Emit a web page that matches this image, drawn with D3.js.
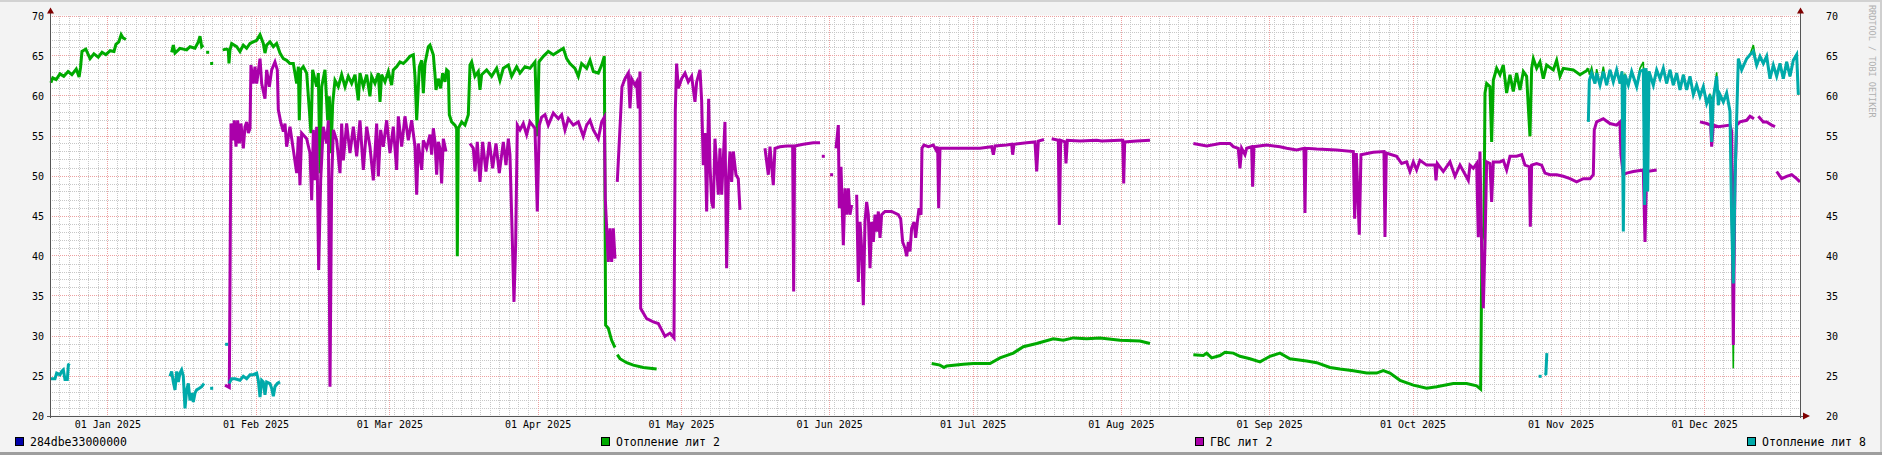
<!DOCTYPE html>
<html><head><meta charset="utf-8">
<script src="https://cdn.jsdelivr.net/npm/d3@7"></script>
<style>
html,body{margin:0;padding:0;background:#F3F3F3;}
svg{display:block;}
text{font-family:"DejaVu Sans Mono",monospace;}
</style>
</head><body>
<svg id="chart" width="1882" height="455"></svg>
<script>
// ---------- DATA (time = days since 01 Jan 2025 00:00, value = °C) ----------
const rangeStartDay = -11.985;
const rangeEndDay = 354.05;
const yTicks = [20, 25, 30, 35, 40, 45, 50, 55, 60, 65, 70];
const legendLabels = ["284dbe33000000", "Отопление лит 2", "ГВС лит 2", "Отопление лит 8"];
const seriesColors = ["#0000AA", "#00AA00", "#AA00AA", "#00AAAA"];
const watermark = "RRDTOOL / TOBI OETIKER";

// 284dbe33000000 : no data in the period
const sensorBlue = [];

// Отопление лит 2 (up to the start of "лит 8")
const heating2 = [
[-11.8,61.6],[-11.4,62.2],[-10.7,62.0],[-9.9,62.7],[-9.1,62.4],[-8.2,63.0],[-7.4,62.6],[-6.5,63.3],[-5.9,62.3],[-5.6,63.5],[-5.3,65.5],[-4.5,65.8],[-3.6,64.6],[-2.8,65.2],[-1.9,64.8],[-1.1,65.4],[-0.3,65.1],[0.6,65.6],[1.4,65.5],[1.8,66.4],[2.4,66.7],[2.9,67.6],[3.3,67.2],[3.9,67.0],
null,
[13.46,65.4],[13.81,66.3],[14.16,65.3],[15.2,65.9],[16.6,65.7],[17.3,66.1],[18.34,65.9],[19.04,66.7],[19.39,67.4],[19.74,66.1],[20.08,66.3],
null,[20.99,65.4],null,[21.83,64.0],null,
[24.13,65.7],[24.96,65.8],[25.31,65.7],[25.45,64.0],[25.66,65.7],[26.01,66.5],[27.06,66.1],[27.75,65.5],[28.45,66.3],[29.15,65.9],[29.85,66.5],[30.54,66.7],[31.24,66.9],[31.94,67.6],[32.63,66.5],[32.98,65.3],[33.33,66.3],[34.03,66.7],[34.73,66.1],[35.42,66.5],[36.12,65.3],[36.82,64.6],[37.51,64.4],[38.21,64.0],[38.91,64.0],[39.61,61.5],[39.96,63.6],[40.16,56.9],[40.44,63.2],[41.0,63.6],[41.7,62.8],[42.61,55.3],[42.95,63.2],[43.79,61.1],[44.14,62.8],[44.49,50.3],[44.84,61.1],[45.53,63.2],[46.09,56.9],[46.44,59.9],[46.79,52.8],[47.14,59.0],[47.62,61.9],[48.32,61.1],[49.02,62.6],[49.72,61.1],[50.41,62.4],[51.11,61.5],[51.81,62.6],[52.5,59.4],[52.85,62.8],[53.55,61.1],[54.25,62.6],[54.94,59.9],[55.29,62.4],[55.99,61.5],[56.69,62.8],[57.04,59.2],[57.38,62.6],[58.08,61.7],[58.78,63.0],[59.47,61.3],[59.82,63.2],[60.52,63.6],[61.22,64.2],[61.92,64.0],[62.61,64.4],[63.31,64.9],[64.01,65.1],[64.36,62.4],[64.71,56.9],[65.27,63.6],[65.76,64.4],[66.1,60.3],[66.45,64.0],[67.15,66.1],[67.49,66.3],[68.19,65.1],[68.54,62.6],[68.75,60.7],[69.23,62.1],[69.72,60.9],[70.14,62.8],[70.63,61.7],[70.98,63.2],[71.33,63.0],[71.54,57.6],[72.02,56.7],[72.72,56.3],[73.07,55.9],[73.21,39.9],[73.42,55.9],[74.12,56.7],[74.81,56.3],[75.51,57.6],[75.86,63.8],[76.21,64.2],[76.9,62.4],[77.6,63.0],[77.95,60.7],[78.3,62.6],[79.34,63.2],[80.39,62.4],[81.44,63.4],[82.13,61.9],[82.83,63.4],[83.88,63.8],[84.57,62.4],[85.62,63.6],[86.32,62.8],[87.36,63.6],[88.41,63.4],[89.45,64.2],[89.94,54.9],[90.29,64.2],[91.2,64.9],[92.24,65.5],[93.29,65.1],[94.33,65.5],[95.38,65.9],[96.08,64.6],[96.77,64.0],[97.82,63.4],[98.52,62.4],[99.21,64.0],[100.26,63.4],[100.96,64.4],[101.66,63.0],[102.7,62.8],[103.4,63.8],[103.96,64.9],[104.23,31.3],[104.79,30.9],[105.49,29.4],[106.19,28.5],
null,
[106.67,27.6],[107.23,27.1],[108.63,26.6],[110.02,26.3],[112.11,26.0],[114.9,25.8],
null,
[172.43,26.5],[174.17,26.3],[175.01,26.0],[175.56,26.2],[179.05,26.4],[181.14,26.5],[184.63,26.5],[186.72,27.2],[189.51,27.8],[191.6,28.6],[194.39,29.0],[197.87,29.6],[199.97,29.4],[202.06,29.7],[204.85,29.6],[207.64,29.7],[211.82,29.4],[215.98,29.3],[218.09,29.0],
null,
[227.16,27.6],[229.25,27.5],[229.95,27.8],[230.99,27.2],[232.74,27.5],[233.78,27.9],[235.52,27.8],[236.91,27.4],[239.0,27.1],[241.1,26.7],[243.19,27.4],[245.28,27.8],[247.37,27.1],[250.86,26.8],[252.95,26.6],[255.74,26.0],[257.83,25.8],[260.62,25.6],[263.41,25.3],[265.5,25.3],[266.89,25.6],[268.29,25.3],[270.38,24.4],[273.17,23.8],[275.96,23.4],[278.05,23.6],[281.53,24.0],[284.32,24.0],[286.42,23.7],[287.25,23.3],[287.53,41.7],[287.95,43.8],[288.16,60.3],[288.51,61.5],[289.2,61.1],[289.55,54.2],[289.9,61.9],[290.6,63.4],[291.3,62.6],[291.99,63.8],[292.69,60.3],[293.39,62.6],[294.08,60.5],[294.78,62.8],[295.48,60.7],[296.18,63.0],[296.87,62.4],[297.57,54.9],[297.92,63.4],[298.27,64.6],[298.97,63.4],[299.66,64.2],[300.36,62.1],[301.06,63.8],[302.45,63.2],[303.15,64.4],[303.84,62.4],[304.54,63.4],[306.63,63.2],[308.03,62.6],[309.42,63.1],[309.78,63.4]
];
// Отопление лит 2 (period where it lies mostly under "лит 8")
const heating2Late = [
[309.78,63.4],[309.99,62.6],[310.47,63.5],[311.17,61.5],[311.52,63.3],[312.22,61.3],[312.91,63.6],[313.61,61.3],[314.31,63.2],[315.0,61.7],[315.7,63.2],[316.4,61.5],[316.82,63.0],[317.1,62.0],[317.44,62.6],[318.14,61.3],[318.84,63.0],[319.89,61.1],[320.58,63.4],[321.28,64.2],[321.56,53.0],[321.84,63.4],[322.19,62.0],[322.47,63.0],[323.37,61.3],[324.07,63.2],[324.77,62.1],[325.46,63.4],[326.16,61.5],[326.86,63.2],[327.55,61.3],[328.25,62.8],[328.95,60.7],[329.65,62.6],[330.34,60.7],[331.04,62.4],[331.74,60.1],[332.43,61.3],[333.13,59.9],[333.83,61.1],[334.53,59.0],[335.22,60.1],[335.57,59.6],[335.92,59.6],[336.62,62.9],[336.97,58.8],[337.32,60.1],[338.01,59.2],[338.71,60.3],[339.41,58.0],[339.76,44.2],[340.1,25.9],[340.45,49.2],[340.8,57.1],[341.15,64.6],[341.85,63.2],[342.89,64.6],[343.59,65.1],[344.29,66.3],[344.99,63.8],[345.68,64.9],[346.38,64.0],[347.08,64.9],[347.77,62.1],[348.47,63.8],[349.17,62.4],[349.87,64.0],[350.56,62.1],[351.26,64.2],[351.96,62.4],[352.65,64.4],[353.35,65.1],[353.7,60.1]
];

// ГВС лит 2
const hotWater2 = [
[24.62,23.8],[25.52,23.5],[25.87,56.5],[26.22,54.4],[26.57,56.9],[26.92,53.6],[27.27,56.9],[27.62,54.0],[27.96,56.5],[28.45,53.4],[28.8,56.1],[29.15,56.7],[29.5,55.3],[29.85,55.9],[30.05,63.8],[30.54,61.5],[30.89,63.6],[31.24,61.5],[31.94,64.6],[32.29,61.5],[32.98,59.6],[33.33,63.2],[33.89,61.1],[34.38,63.2],[35.07,64.2],[35.56,63.2],[35.77,58.2],[36.26,56.7],[36.82,55.5],[37.17,56.5],[37.51,53.6],[38.21,56.1],[38.91,53.2],[39.61,50.3],[39.96,54.9],[40.3,48.8],[40.65,55.3],[41.7,54.6],[42.4,52.8],[42.75,46.9],[43.1,55.7],[43.44,49.4],[43.79,56.1],[44.21,38.2],[44.63,49.4],[45.18,56.1],[45.88,54.0],[46.23,56.9],[46.58,23.6],[46.93,49.4],[47.28,55.7],[47.97,54.4],[48.67,50.3],[49.02,56.5],[49.37,51.9],[50.06,56.5],[50.76,52.8],[51.46,56.1],[52.16,52.4],[52.85,56.9],[53.55,50.7],[54.25,56.1],[54.94,53.6],[55.64,49.4],[56.34,56.5],[56.69,49.9],[57.18,55.7],[57.73,53.6],[58.43,56.9],[59.13,52.8],[59.82,56.1],[60.52,50.7],[60.87,57.4],[61.57,53.6],[62.26,57.4],[62.96,54.4],[63.66,56.9],[64.36,53.6],[64.71,47.6],[65.06,54.0],[65.76,50.7],[66.1,54.4],[66.79,53.4],[67.49,55.1],[67.84,52.6],[68.19,55.9],[68.54,54.2],[68.89,50.1],[69.23,54.2],[69.58,53.4],[69.93,49.0],[70.28,54.6],[70.84,53.0],
null,
[75.86,54.0],[76.56,53.4],[76.9,50.5],[77.39,54.2],[77.95,49.2],[78.51,54.2],[79.2,50.5],[79.9,54.2],[80.6,50.9],[81.3,54.0],[81.99,50.3],[82.83,54.2],[83.39,51.3],[83.88,54.6],[84.22,52.6],[84.57,45.1],[85.06,34.2],[85.41,41.3],[85.76,56.3],[86.32,55.7],[87.01,56.5],[87.71,55.1],[88.41,56.7],[89.45,55.9],[89.94,45.5],[90.36,56.3],[90.85,57.3],[91.55,57.6],[92.24,56.3],[93.29,57.8],[94.33,57.1],[95.03,57.6],[95.73,55.7],[96.43,57.1],[97.47,56.3],[98.52,56.7],[99.56,54.9],[100.26,56.3],[100.96,56.9],[101.66,55.7],[102.7,54.6],[103.4,56.7],[103.96,57.3],[104.16,47.1],[104.58,41.7],[104.79,39.2],[105.14,43.4],[105.49,39.2],[105.84,43.4],[106.19,39.6],
null,
[106.67,49.2],[107.02,53.4],[107.37,57.6],[107.65,61.1],[108.28,62.1],[108.98,62.8],[109.32,58.4],[109.67,62.1],[110.37,61.3],[110.72,61.7],[111.07,58.4],[111.42,63.0],[111.56,33.4],[112.11,32.8],[112.81,32.1],[114.2,31.7],[115.25,31.5],[115.95,30.7],[116.64,29.9],[117.69,30.3],[118.53,29.7],[118.81,58.2],[119.08,64.0],[119.43,60.9],[120.13,62.1],[120.83,62.8],[121.52,61.7],[122.22,62.4],[122.92,59.2],[123.27,61.7],[123.97,63.2],[124.31,59.4],[124.66,51.3],[125.01,55.3],[125.36,45.5],[125.78,59.6],[126.06,51.3],[126.41,46.7],[126.75,45.9],[127.1,54.6],[127.45,51.3],[127.8,47.6],[128.15,53.4],[128.5,47.6],[128.85,52.1],[129.19,56.7],[129.54,38.4],[129.89,49.2],[130.24,53.0],[130.59,49.2],[130.94,53.0],[131.49,50.1],[131.98,49.6],[132.33,45.7],
null,
[137.56,53.4],[138.26,50.1],[138.61,53.6],[139.3,48.8],[139.65,53.4],[140.7,53.6],[142.09,53.7],[143.35,53.7],[143.56,35.5],[143.77,53.7],[145.58,53.9],[147.67,54.1],[149.07,54.1],
null,[149.76,52.4],null,[151.5,50.1],null,
[152.42,53.4],[152.9,56.3],[153.11,45.9],[153.46,51.1],[153.95,41.3],[154.3,48.4],[154.65,45.1],[155.0,48.4],[155.34,45.1],[155.69,46.3],
null,
[156.74,47.6],[157.09,36.7],[157.44,44.2],[157.78,40.9],[158.13,33.8],[158.48,44.2],[158.83,46.7],[159.18,45.1],[159.53,38.4],[159.88,44.2],[160.23,41.7],[160.57,45.1],[160.92,43.0],[161.27,45.5],[161.62,42.2],[161.97,45.1],[162.67,45.5],[164.06,45.5],[165.45,45.1],[165.94,44.6],[166.36,41.7],[166.85,40.9],[167.2,39.9],[167.55,41.7],[167.89,40.5],[168.24,43.4],[168.73,44.2],[169.08,42.2],[169.43,44.2],[169.78,45.9],[170.2,45.1],[170.4,53.4],[170.82,53.8],[171.73,53.6],[172.78,53.8],[173.33,53.2],[173.68,53.6],[173.89,45.9],[174.17,53.4],[176.96,53.4],[179.75,53.4],[182.54,53.4],[184.98,53.6],[185.33,52.6],[185.67,53.7],[188.11,53.8],[189.16,53.9],[189.37,52.6],[189.65,53.9],[192.3,54.1],[194.04,54.2],[194.39,50.5],[194.74,54.3],[195.92,54.5],
null,
[197.53,54.6],[198.92,54.4],[199.13,43.8],[199.41,54.4],[200.31,54.2],[200.52,51.5],[200.8,54.4],[203.45,54.3],[206.94,54.4],[207.98,54.3],[211.82,54.4],[212.38,54.4],[212.59,49.0],[212.8,54.2],[215.3,54.3],[218.09,54.4],
null,
[227.16,54.0],[229.95,53.7],[232.74,54.0],[234.83,54.0],[235.52,53.6],[236.56,53.4],[236.91,50.9],[237.26,53.4],[237.96,52.6],[238.31,53.4],[239.35,53.6],[239.56,48.6],[239.84,53.6],[242.49,53.8],[245.28,53.6],[246.67,53.4],[248.77,53.2],[250.3,53.4],[250.51,45.3],[250.72,53.4],[252.95,53.3],[257.13,53.2],[260.62,53.0],[260.9,44.6],[261.25,52.8],[261.87,42.6],[262.22,52.6],[264.8,52.9],[267.03,53.0],[267.24,42.3],[267.52,52.8],[269.68,52.4],[270.73,51.5],[271.77,51.7],[272.47,50.5],[273.17,51.7],[273.86,50.7],[274.56,51.9],[275.96,51.3],[277.7,51.3],[277.91,49.4],[278.19,51.5],[279.44,50.5],[280.84,51.7],[281.88,49.9],[282.93,51.3],[284.67,49.4],[285.02,51.3],[285.72,50.9],[286.42,51.5],[286.76,42.3],[287.11,53.0],[287.46,40.9],[287.81,33.4],[288.16,41.3],[288.51,51.7],[289.2,51.5],[289.55,46.7],[289.9,51.7],[291.3,51.7],[291.99,51.9],[292.69,50.7],[293.39,52.4],[294.78,52.4],[295.83,52.6],[296.53,51.3],[297.43,51.1],[297.64,43.6],[297.92,51.3],[298.97,51.5],[300.01,51.3],[300.71,50.3],[301.75,50.1],[303.15,50.1],[304.54,49.9],[305.94,49.6],[307.33,49.2],[308.73,49.6],[310.12,49.6],[310.82,50.1],[311.02,55.7],[311.51,56.7],[312.91,57.1],[314.3,56.5],[315.7,56.3],[316.4,56.7],[316.6,52.6],[317.09,50.1],[317.79,50.3],[319.19,50.5],[321.28,50.7],[321.63,41.7],[321.98,50.5],[324.07,50.7],
null,
[333.13,56.7],[334.53,56.5],[335.36,56.3],[335.57,53.6],[335.92,56.3],[336.97,56.1],[339.41,56.3],[339.76,55.5],[340.1,28.8],[340.45,49.6],[340.8,56.3],[341.5,56.7],[342.89,56.9],[343.59,57.4],[344.43,57.1],
null,
[345.33,57.4],[346.38,56.7],[347.08,56.7],[348.12,56.3],[348.82,56.1],
null,
[349.17,50.5],[350.21,49.6],[351.26,49.9],[352.31,50.1],[353.35,49.6],[354.05,49.2]
];

// Отопление лит 8
const heating8 = [
[-11.99,24.6],[-10.94,24.6],[-10.59,25.3],[-9.89,25.1],[-9.55,25.5],[-9.2,25.7],[-8.85,24.5],[-8.36,24.5],[-8.15,26.3],[-7.94,26.5],
null,
[13.11,24.9],[13.46,25.5],[13.81,24.2],[14.16,23.2],[14.51,25.5],[14.86,24.2],[15.2,25.3],[15.55,25.7],[15.9,24.9],[16.25,20.9],[16.6,23.2],[16.95,24.0],[17.3,21.9],[17.65,22.8],[17.99,21.7],[18.34,22.8],[18.69,23.2],[19.25,23.4],[19.74,23.6],[20.22,24.0],
null,[21.83,23.4],null,[24.96,28.9],null,
[25.45,24.0],[26.01,24.6],[26.71,24.6],[27.75,24.4],[28.45,24.9],[29.15,24.6],[29.85,25.1],[30.54,25.1],[31.24,25.3],[31.59,24.4],[31.94,22.3],[32.29,24.4],[32.63,24.2],[32.98,22.6],[33.33,24.2],[34.03,24.0],[34.38,23.4],[34.73,22.4],[35.07,23.6],[35.56,24.0],[36.12,24.2],
null,[299.7,24.9],null,
[300.6,25.1],[300.9,25.2],[301.1,27.8],
null,
[309.78,56.7],[309.99,61.9],[310.47,62.8],[311.17,61.5],[311.52,62.8],[312.22,61.3],[312.91,63.0],[313.61,61.3],[314.31,63.2],[315.0,61.7],[315.7,63.2],[316.4,61.5],[316.82,63.0],[317.1,43.0],[317.44,62.6],[318.14,61.3],[318.84,63.0],[319.89,61.1],[320.58,63.0],[321.28,63.2],[321.56,46.3],[321.84,63.4],[322.19,48.0],[322.47,63.0],[323.37,61.3],[324.07,63.2],[324.77,62.1],[325.46,63.4],[326.16,61.5],[326.86,63.2],[327.55,61.3],[328.25,62.8],[328.95,60.7],[329.65,62.6],[330.34,60.7],[331.04,62.4],[331.74,60.1],[332.43,61.3],[333.13,59.9],[333.83,61.1],[334.53,59.0],[335.22,60.1],[335.57,54.2],[335.92,59.6],[336.62,62.4],[336.97,58.8],[337.32,60.1],[338.01,59.2],[338.71,60.3],[339.41,58.0],[339.76,44.2],[340.1,36.5],[340.45,49.2],[340.8,57.1],[341.15,64.6],[341.85,63.2],[342.89,64.6],[343.59,65.1],[344.29,65.5],[344.99,63.8],[345.68,64.9],[346.38,64.0],[347.08,64.9],[347.77,62.1],[348.47,63.8],[349.17,62.4],[349.87,64.0],[350.56,62.1],[351.26,64.2],[351.96,62.4],[352.65,64.4],[353.35,65.1],[353.7,60.1]
];

// ---------- LAYOUT ----------
const W = 1882, H = 455;
const L = 50, R = 1800, T = 15.5, B = 415.5;
const DAY = 864e5, BASE = Date.UTC(2025, 0, 1);
const toDate = d => new Date(BASE + d * DAY);

const svg = d3.select("#chart");
const x = d3.scaleUtc().domain([toDate(rangeStartDay), toDate(rangeEndDay)]).range([L, R]);
const y = d3.scaleLinear().domain([d3.min(yTicks), d3.max(yTicks)]).range([B, T]);

// background & frame
svg.append("rect").attr("width", W).attr("height", H).attr("fill", "#F3F3F3");
svg.append("rect").attr("x", 0).attr("y", 0).attr("width", W).attr("height", 2).attr("fill", "#D2D2D2");
svg.append("rect").attr("x", W - 2).attr("y", 0).attr("width", 2).attr("height", H).attr("fill", "#CFCFCF");
svg.append("rect").attr("x", 0).attr("y", H - 3).attr("width", W).attr("height", 3).attr("fill", "#9E9E9E");

// plot canvas
svg.append("rect").attr("x", L).attr("y", T).attr("width", R - L).attr("height", B - T).attr("fill", "#FFFFFF");

const grid = svg.append("g").attr("shape-rendering", "crispEdges");
const minorY = d3.range(d3.min(yTicks), d3.max(yTicks) + 1, 1).filter(v => v % 5 !== 0);
grid.selectAll(".mh").data(minorY).join("line")
  .attr("x1", L).attr("x2", R).attr("y1", d => Math.round(y(d)) + 0.5).attr("y2", d => Math.round(y(d)) + 0.5)
  .attr("stroke", "#C8C8C8").attr("stroke-dasharray", "1,1");
const minorDays = d3.range(-12, 355, 2).map(toDate).filter(d => x(d) > L && x(d) < R);
grid.selectAll(".mv").data(minorDays).join("line")
  .attr("y1", T).attr("y2", B).attr("x1", d => Math.round(x(d)) + 0.5).attr("x2", d => Math.round(x(d)) + 0.5)
  .attr("stroke", "#C8C8C8").attr("stroke-dasharray", "1,1");
grid.selectAll(".Mh").data(yTicks.slice(1)).join("line")
  .attr("x1", L).attr("x2", R).attr("y1", d => Math.round(y(d)) + 0.5).attr("y2", d => Math.round(y(d)) + 0.5)
  .attr("stroke", "#EDA0A0").attr("stroke-dasharray", "1,1");
const months = d3.utcMonth.range(toDate(rangeStartDay), toDate(rangeEndDay));
grid.selectAll(".Mv").data(months).join("line")
  .attr("y1", T).attr("y2", B).attr("x1", d => Math.round(x(d)) + 0.5).attr("x2", d => Math.round(x(d)) + 0.5)
  .attr("stroke", "#EDA0A0").attr("stroke-dasharray", "1,1");

// series
function drawSeries(data, color, width) {
  const pts = data.map(p => p ? [toDate(p[0]), p[1]] : null);
  const line = d3.line().defined(d => d !== null).x(d => x(d[0])).y(d => y(d[1]));
  svg.append("path").attr("d", line(pts)).attr("fill", "none").attr("stroke", color)
    .attr("stroke-width", width).attr("stroke-linejoin", "miter").attr("stroke-linecap", "butt");
  const singles = pts.filter((p, i) => p && !pts[i - 1] && !pts[i + 1]);
  svg.selectAll(null).data(singles).join("rect")
    .attr("x", d => x(d[0]) - 1.5).attr("y", d => y(d[1]) - 1.5).attr("width", 3).attr("height", 3).attr("fill", color);
}
drawSeries(sensorBlue, seriesColors[0], 3);
drawSeries(heating2, seriesColors[1], 3);
drawSeries(heating2Late, seriesColors[1], 1.6);
drawSeries(hotWater2, seriesColors[2], 3);
drawSeries(heating8, seriesColors[3], 3);

// axes lines
const axisColor = "#555555", arrowColor = "#7F0000";
const ax = svg.append("g").attr("shape-rendering", "crispEdges");
ax.append("line").attr("x1", L + 0.5).attr("x2", L + 0.5).attr("y1", 12).attr("y2", B + 2).attr("stroke", axisColor);
ax.append("line").attr("x1", R + 0.5).attr("x2", R + 0.5).attr("y1", 12).attr("y2", B + 2).attr("stroke", axisColor);
ax.append("line").attr("x1", L - 3).attr("x2", R + 5).attr("y1", B + 0.5).attr("y2", B + 0.5).attr("stroke", axisColor);
svg.append("path").attr("d", `M${L - 3},${T - 2}L${L + 0.5},${T - 8}L${L + 4},${T - 2}Z`).attr("fill", arrowColor);
svg.append("path").attr("d", `M${R - 3},${T - 2}L${R + 0.5},${T - 8}L${R + 4},${T - 2}Z`).attr("fill", arrowColor);
svg.append("path").attr("d", `M${R + 3},${B - 3}L${R + 10},${B + 0.5}L${R + 3},${B + 4}Z`).attr("fill", arrowColor);

// axis labels via d3 axes
const yAxisL = d3.axisLeft(y).tickValues(yTicks).tickSize(0).tickPadding(0).tickFormat(d3.format("d"));
const gL = svg.append("g").attr("transform", `translate(${L - 6},0)`).call(yAxisL);
const yAxisR = d3.axisRight(y).tickValues(yTicks).tickSize(0).tickPadding(0).tickFormat(d3.format("d"));
const gR = svg.append("g").attr("transform", `translate(${R + 26},0)`).call(yAxisR);
const xAxis = d3.axisBottom(x).tickValues(months).tickSize(0).tickPadding(0).tickFormat(d3.utcFormat("%d %b %Y"));
const gX = svg.append("g").attr("transform", `translate(0,${B + 5})`).call(xAxis);
[gL, gR, gX].forEach(g => {
  g.select(".domain").remove();
  g.selectAll("text").attr("font-family", "DejaVu Sans Mono").attr("font-size", 10).attr("fill", "#000");
});
gL.selectAll("text").attr("dy", "0.35em");
gR.selectAll("text").attr("dy", "0.35em");
gX.selectAll("text").attr("dy", "0.75em");

// legend
const legendX = [15, 601, 1195, 1747];
const lg = svg.append("g");
legendLabels.forEach((lab, i) => {
  lg.append("rect").attr("x", legendX[i] + 0.5).attr("y", 437.5).attr("width", 8).attr("height", 8)
    .attr("fill", seriesColors[i]).attr("stroke", "#000").attr("stroke-width", 1).attr("shape-rendering", "crispEdges");
  lg.append("text").attr("x", legendX[i] + 15).attr("y", 445.5).attr("font-size", 11.5).attr("fill", "#000").text(lab);
});

// watermark
svg.append("text").attr("transform", "translate(1869,5) rotate(90)").attr("font-size", 8.5)
  .attr("fill", "#B0B0B0").text(watermark);
</script>
</body></html>
